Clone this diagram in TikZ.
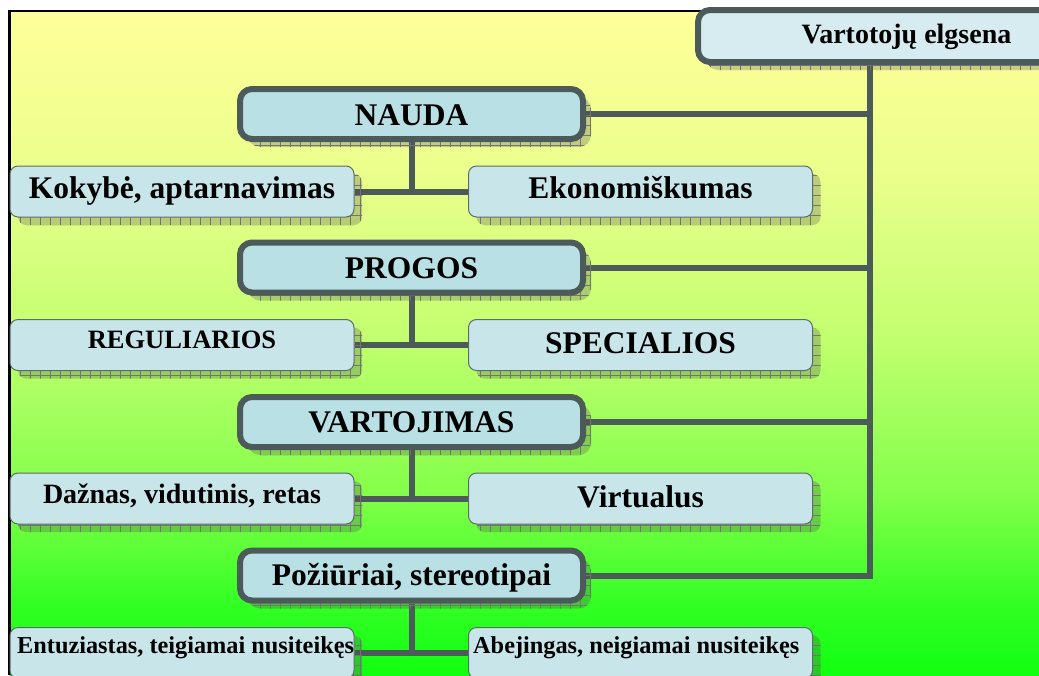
\documentclass[tikz,border=0pt]{standalone}
\usepackage{fontspec}
\setmainfont{Liberation Serif}
\usetikzlibrary{shadows,patterns.meta,calc}

\pgfdeclarelayer{background}
\pgfsetlayers{background,main}

% palette
\definecolor{linegray}{HTML}{4D5A5A}
\definecolor{mainfill}{HTML}{B9E0E4}
\definecolor{subfill}{HTML}{C8E6EA}
\definecolor{topfill}{HTML}{D7ECF0}
\definecolor{subedge}{HTML}{5E6B6B}
\definecolor{gA}{HTML}{10FF10}
\definecolor{gB}{HTML}{35FF25}
\definecolor{gC}{HTML}{80FF48}
\definecolor{gD}{HTML}{A0FF5C}
\definecolor{gE}{HTML}{C4FF70}
\definecolor{gF}{HTML}{EBFF8C}
\definecolor{gG}{HTML}{FFFF99}

% yellow-to-green backdrop
\pgfdeclareverticalshading{meadow}{100bp}{%
  color(0bp)=(gA); color(25bp)=(gA); color(30.6bp)=(gB); color(38.2bp)=(gC);
  color(44.2bp)=(gD); color(50.9bp)=(gE); color(63bp)=(gF); color(75bp)=(gG);
  color(100bp)=(gG)}

\tikzset{
  hatchshadow/.style={
    general shadow={shadow xshift=8pt, shadow yshift=-8pt, fill=black!70, fill opacity=0.28},
    general shadow={shadow xshift=8pt, shadow yshift=-8pt,
      pattern={Hatch[angle=0,distance=10pt,line width=0.6pt]}, pattern color=black!55, fill opacity=0.35}},
  mainbox/.style={hatchshadow, draw=linegray, line width=6pt, fill=mainfill,
    rounded corners=12pt, minimum width=343pt, minimum height=50pt, inner sep=0pt},
  topbox/.style={hatchshadow, draw=linegray, line width=6pt, fill=topfill,
    rounded corners=12pt, minimum width=362pt, minimum height=52pt, inner sep=0pt},
  subbox/.style={hatchshadow, draw=subedge, line width=1pt, fill=subfill,
    rounded corners=8pt, minimum width=344pt, minimum height=51pt, inner sep=0pt},
  conn/.style={draw=linegray, line width=6pt},
  txt/.style={inner sep=0pt, anchor=base},
  bigtxt/.style={txt, font=\bfseries\fontsize{31.5}{36}\selectfont},
  smalltxt/.style={txt, anchor=base west, font=\bfseries\fontsize{24.3}{28}\selectfont},
}

\begin{document}
\begin{tikzpicture}[x=1pt,y=-1pt]
\useasboundingbox (0,0) rectangle (1039,675);

% boxes
\node[topbox]  (vtop)   at (879,36) {};
\node[mainbox] (nauda)  at (411.5,114) {};
\node[mainbox] (progos) at (411.5,267.5) {};
\node[mainbox] (vartoj) at (411.5,422) {};
\node[mainbox] (poz)    at (411.5,575.5) {};

\node[subbox] (koky)  at (182,191.5) {};
\node[subbox] (ekon)  at (640.5,191.5) {};
\node[subbox] (regul) at (182,345) {};
\node[subbox] (spec)  at (640.5,345) {};
\node[subbox] (dazn)  at (182,498.5) {};
\node[subbox] (virt)  at (640.5,498.5) {};
\node[subbox] (entu)  at (182,653) {};
\node[subbox] (abej)  at (640.5,653) {};

% labels
\node[txt, font=\bfseries\fontsize{28}{32}\selectfont] (tVart) at (906.5,43) {Vartotojų elgsena};
\node[bigtxt] (tNauda)  at (411.5,125) {NAUDA};
\node[bigtxt] (tProgos) at (411.5,278) {PROGOS};
\node[bigtxt] (tVartoj) at (411.5,432) {VARTOJIMAS};
\node[bigtxt] (tPoz)    at (411.5,585) {Požiūriai, stereotipai};
\node[bigtxt] (tKoky)   at (182,198) {Kokybė, aptarnavimas};
\node[bigtxt] (tEkon)   at (640.5,198) {Ekonomiškumas};
\node[txt, font=\bfseries\fontsize{26.5}{30}\selectfont] (tRegul) at (182,348) {REGULIARIOS};
\node[bigtxt] (tSpec)   at (640.5,353) {SPECIALIOS};
\node[txt, font=\bfseries\fontsize{28}{32}\selectfont] (tDazn) at (182,503) {Dažnas, vidutinis, retas};
\node[bigtxt] (tVirt)   at (640.5,507) {Virtualus};
\node[smalltxt] (tEntu) at (17,653) {Entuziastas, teigiamai nusiteikęs};
\node[smalltxt] (tAbej) at (473,653) {Abejingas, neigiamai nusiteikęs};

\begin{pgfonlayer}{background}
  \fill[white] (0,0) rectangle (1039,675);
  \shade[shading=meadow] (9.5,11) rectangle (1039,675);
  \draw[black, line width=2.5pt] (9.5,675) -- (9.5,11) -- (1039,11);

  % trunk from the top box to the four groups
  \coordinate (tx) at (870,0);
  \draw[conn] (tx |- vtop.south) -- (tx |- poz.east) -- (poz.east);
  \draw[conn] (nauda.east)  -- (nauda.east -| tx);
  \draw[conn] (progos.east) -- (progos.east -| tx);
  \draw[conn] (vartoj.east) -- (vartoj.east -| tx);

  % each group splits into two sub-boxes
  \draw[conn] (nauda.south)  -- (nauda.south |- koky.east);
  \draw[conn] (koky.east) -- (ekon.west);
  \draw[conn] (progos.south) -- (progos.south |- regul.east);
  \draw[conn] (regul.east) -- (spec.west);
  \draw[conn] (vartoj.south) -- (vartoj.south |- dazn.east);
  \draw[conn] (dazn.east) -- (virt.west);
  \draw[conn] (poz.south) -- (poz.south |- entu.east);
  \draw[conn] (entu.east) -- (abej.west);
\end{pgfonlayer}
\end{tikzpicture}
\end{document}
